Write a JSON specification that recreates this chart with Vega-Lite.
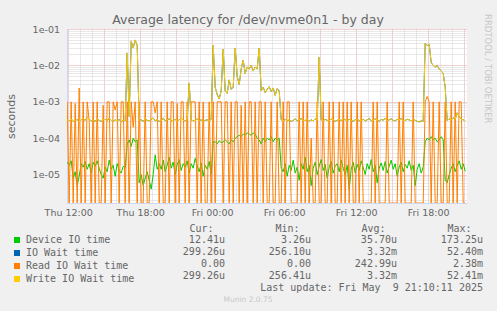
{
"$schema": "https://vega.github.io/schema/vega-lite/v6.json",
"background": "#f0f0f0",
"autosize": {"type": "none"},
"padding": {"left": 67, "top": 29, "right": 430, "bottom": 282},
"title": {"text": "RRDTOOL / TOBI OETIKER", "orient": "right", "anchor": "start", "frame": "bounds", "font": "DejaVu Sans", "fontSize": 8.5, "fontWeight": "normal", "color": "#c8c8c8", "offset": 0},
"bounds": "flush",
"spacing": 37,
"config": {"view": {"stroke": null}, "font": "DejaVu Sans"},
"vconcat": [
{
"width": 400, "height": 174,
"view": {"fill": "white", "stroke": null},
"title": {"text": "Average latency for /dev/nvme0n1 - by day", "anchor": "middle", "frame": "group", "dx": -19, "offset": -2.5, "font": "DejaVu Sans", "fontSize": 12.5, "fontWeight": "normal", "color": "#666"},
"data": {"values": [
{"t":"2025-05-08T11:55","d":2.2e-5,"w":3.2e-4,"r":1e-3},
{"t":"2025-05-08T12:05","d":1.8e-5,"w":3e-4,"r":0},
{"t":"2025-05-08T12:15","d":2.4e-5,"w":3.4e-4,"r":1e-3},
{"t":"2025-05-08T12:25","d":8e-6,"w":2.9e-4,"r":0},
{"t":"2025-05-08T12:35","d":1.2e-5,"w":3.1e-4,"r":9e-4},
{"t":"2025-05-08T12:45","d":5e-6,"w":3.3e-4,"r":0},
{"t":"2025-05-08T12:55","d":9e-6,"w":2.8e-4,"r":2.4e-3},
{"t":"2025-05-08T13:05","d":2e-5,"w":3.2e-4,"r":0},
{"t":"2025-05-08T13:15","d":1.6e-5,"w":3.5e-4,"r":1e-3},
{"t":"2025-05-08T13:25","d":2.3e-5,"w":3.1e-4,"r":0},
{"t":"2025-05-08T13:35","d":1.4e-5,"w":3.8e-4,"r":1e-3},
{"t":"2025-05-08T13:45","d":2e-5,"w":3.3e-4,"r":3e-4},
{"t":"2025-05-08T13:55","d":1.1e-5,"w":3e-4,"r":0},
{"t":"2025-05-08T14:05","d":2.2e-5,"w":3.2e-4,"r":1e-3},
{"t":"2025-05-08T14:15","d":1.7e-5,"w":2.9e-4,"r":0},
{"t":"2025-05-08T14:25","d":2.4e-5,"w":3.4e-4,"r":1e-3},
{"t":"2025-05-08T14:35","d":1.5e-5,"w":3.1e-4,"r":0},
{"t":"2025-05-08T14:45","d":1e-5,"w":2.9e-4,"r":0},
{"t":"2025-05-08T14:55","d":8e-6,"w":3.2e-4,"r":8e-4},
{"t":"2025-05-08T15:05","d":1.6e-5,"w":3.3e-4,"r":0},
{"t":"2025-05-08T15:15","d":1.2e-5,"w":3e-4,"r":1e-3},
{"t":"2025-05-08T15:25","d":2.5e-5,"w":3.6e-4,"r":1e-3},
{"t":"2025-05-08T15:35","d":1.4e-5,"w":3.1e-4,"r":0},
{"t":"2025-05-08T15:45","d":1.8e-5,"w":2.9e-4,"r":1e-3},
{"t":"2025-05-08T15:55","d":9e-6,"w":3.2e-4,"r":6e-4},
{"t":"2025-05-08T16:05","d":2e-5,"w":3e-4,"r":1e-3},
{"t":"2025-05-08T16:15","d":1.3e-5,"w":3.3e-4,"r":0},
{"t":"2025-05-08T16:25","d":1.1e-5,"w":2.8e-4,"r":1e-3},
{"t":"2025-05-08T16:35","d":1.7e-5,"w":3.1e-4,"r":1e-3},
{"t":"2025-05-08T16:45","d":1.5e-5,"w":3e-4,"r":0},
{"t":"2025-05-08T16:55","d":7e-5,"w":0.022,"r":1e-3},
{"t":"2025-05-08T17:05","d":9e-5,"w":4e-4,"r":0},
{"t":"2025-05-08T17:15","d":6e-5,"w":0.047,"r":1e-3},
{"t":"2025-05-08T17:25","d":1e-4,"w":0.03,"r":2e-4},
{"t":"2025-05-08T17:35","d":8e-5,"w":0.05,"r":1e-3},
{"t":"2025-05-08T17:45","d":9e-5,"w":0.035,"r":0},
{"t":"2025-05-08T17:55","d":6e-6,"w":3e-4,"r":1e-3},
{"t":"2025-05-08T18:05","d":1e-5,"w":3.2e-4,"r":0},
{"t":"2025-05-08T18:15","d":5e-6,"w":2.9e-4,"r":0},
{"t":"2025-05-08T18:25","d":8e-6,"w":3.4e-4,"r":1e-3},
{"t":"2025-05-08T18:35","d":1.2e-5,"w":3.1e-4,"r":0},
{"t":"2025-05-08T18:45","d":7e-6,"w":3e-4,"r":0},
{"t":"2025-05-08T18:55","d":4e-6,"w":3.3e-4,"r":1e-3},
{"t":"2025-05-08T19:05","d":1e-5,"w":3.6e-4,"r":1e-3},
{"t":"2025-05-08T19:15","d":3.5e-5,"w":3e-4,"r":5e-4},
{"t":"2025-05-08T19:25","d":1.4e-5,"w":3.2e-4,"r":1e-3},
{"t":"2025-05-08T19:35","d":2e-5,"w":2.9e-4,"r":0},
{"t":"2025-05-08T19:45","d":1.4e-5,"w":3.1e-4,"r":1e-3},
{"t":"2025-05-08T19:55","d":2.5e-5,"w":3.5e-4,"r":0},
{"t":"2025-05-08T20:05","d":1.2e-5,"w":3e-4,"r":0},
{"t":"2025-05-08T20:15","d":1.8e-5,"w":3.2e-4,"r":1e-3},
{"t":"2025-05-08T20:25","d":3e-5,"w":3.4e-4,"r":0},
{"t":"2025-05-08T20:35","d":1.5e-5,"w":3e-4,"r":1e-3},
{"t":"2025-05-08T20:45","d":2.2e-5,"w":3.1e-4,"r":1e-3},
{"t":"2025-05-08T20:55","d":1e-5,"w":3.3e-4,"r":0},
{"t":"2025-05-08T21:05","d":1.9e-5,"w":2.9e-4,"r":9e-4},
{"t":"2025-05-08T21:15","d":2.6e-5,"w":3.2e-4,"r":0},
{"t":"2025-05-08T21:25","d":1.3e-5,"w":3.6e-4,"r":1e-3},
{"t":"2025-05-08T21:35","d":2e-5,"w":3.1e-4,"r":1e-3},
{"t":"2025-05-08T21:45","d":1.6e-5,"w":3e-4,"r":0},
{"t":"2025-05-08T21:55","d":2.4e-5,"w":3.3e-4,"r":1e-3},
{"t":"2025-05-08T22:05","d":1.1e-5,"w":3.3e-3,"r":0},
{"t":"2025-05-08T22:15","d":2e-5,"w":3.2e-4,"r":1e-3},
{"t":"2025-05-08T22:25","d":1.5e-5,"w":3e-4,"r":1e-3},
{"t":"2025-05-08T22:35","d":2.8e-5,"w":3.1e-4,"r":1e-3},
{"t":"2025-05-08T22:45","d":1.7e-5,"w":3.4e-4,"r":0},
{"t":"2025-05-08T22:55","d":1.2e-5,"w":3e-4,"r":1e-3},
{"t":"2025-05-08T23:05","d":2.1e-5,"w":3.2e-4,"r":0},
{"t":"2025-05-08T23:15","d":9e-6,"w":2.9e-4,"r":1e-3},
{"t":"2025-05-08T23:25","d":1.8e-5,"w":3.1e-4,"r":0},
{"t":"2025-05-08T23:35","d":1.4e-5,"w":3.2e-4,"r":0},
{"t":"2025-05-08T23:45","d":2.3e-5,"w":3e-4,"r":1e-3},
{"t":"2025-05-08T23:55","d":1e-5,"w":3.3e-4,"r":0},
{"t":"2025-05-09T00:05","d":8e-5,"w":0.035,"r":1e-3},
{"t":"2025-05-09T00:15","d":8e-5,"w":2.5e-3,"r":0},
{"t":"2025-05-09T00:25","d":7e-5,"w":1.6e-3,"r":1e-3},
{"t":"2025-05-09T00:35","d":8.5e-5,"w":1.2e-3,"r":1e-3},
{"t":"2025-05-09T00:45","d":7.5e-5,"w":2e-3,"r":1e-3},
{"t":"2025-05-09T00:55","d":8e-5,"w":0.028,"r":0},
{"t":"2025-05-09T01:05","d":9e-5,"w":2e-3,"r":1e-3},
{"t":"2025-05-09T01:15","d":8e-5,"w":1.7e-3,"r":1e-3},
{"t":"2025-05-09T01:25","d":7e-5,"w":4e-3,"r":0},
{"t":"2025-05-09T01:35","d":9e-5,"w":2.2e-3,"r":1e-3},
{"t":"2025-05-09T01:45","d":8e-5,"w":2.5e-3,"r":0},
{"t":"2025-05-09T01:55","d":1e-4,"w":0.03,"r":1e-3},
{"t":"2025-05-09T02:05","d":1.1e-4,"w":5e-3,"r":1e-3},
{"t":"2025-05-09T02:15","d":1.2e-4,"w":3e-3,"r":0},
{"t":"2025-05-09T02:25","d":1.1e-4,"w":8e-3,"r":8e-4},
{"t":"2025-05-09T02:35","d":1.3e-4,"w":0.014,"r":0},
{"t":"2025-05-09T02:45","d":1.2e-4,"w":6e-3,"r":1e-3},
{"t":"2025-05-09T02:55","d":1.4e-4,"w":9e-3,"r":0},
{"t":"2025-05-09T03:05","d":1.3e-4,"w":8e-3,"r":1e-3},
{"t":"2025-05-09T03:15","d":1.2e-4,"w":0.01,"r":1e-3},
{"t":"2025-05-09T03:25","d":1.4e-4,"w":7e-3,"r":0},
{"t":"2025-05-09T03:35","d":1.3e-4,"w":9e-3,"r":1e-3},
{"t":"2025-05-09T03:45","d":1e-4,"w":8e-3,"r":0},
{"t":"2025-05-09T03:55","d":9e-5,"w":0.03,"r":1e-3},
{"t":"2025-05-09T04:05","d":7e-5,"w":2e-3,"r":1e-3},
{"t":"2025-05-09T04:15","d":1e-4,"w":2.5e-3,"r":0},
{"t":"2025-05-09T04:25","d":8e-5,"w":1.8e-3,"r":1e-3},
{"t":"2025-05-09T04:35","d":1e-4,"w":2.2e-3,"r":0},
{"t":"2025-05-09T04:45","d":9e-5,"w":2.6e-3,"r":0},
{"t":"2025-05-09T04:55","d":1.1e-4,"w":1.9e-3,"r":1e-3},
{"t":"2025-05-09T05:05","d":8e-5,"w":2.4e-3,"r":0},
{"t":"2025-05-09T05:15","d":1e-4,"w":1.5e-3,"r":0},
{"t":"2025-05-09T05:25","d":9e-5,"w":2.3e-3,"r":1e-3},
{"t":"2025-05-09T05:35","d":1e-4,"w":2e-3,"r":0},
{"t":"2025-05-09T05:45","d":1.5e-5,"w":3.2e-4,"r":0},
{"t":"2025-05-09T05:55","d":1.2e-5,"w":3e-4,"r":1e-3},
{"t":"2025-05-09T06:05","d":2e-5,"w":3.3e-4,"r":0},
{"t":"2025-05-09T06:15","d":9e-6,"w":3e-4,"r":1e-3},
{"t":"2025-05-09T06:25","d":1.8e-5,"w":3.2e-4,"r":1e-3},
{"t":"2025-05-09T06:35","d":1.3e-5,"w":2.9e-4,"r":0},
{"t":"2025-05-09T06:45","d":2.5e-5,"w":3.1e-4,"r":0},
{"t":"2025-05-09T06:55","d":1.1e-5,"w":3.4e-4,"r":0},
{"t":"2025-05-09T07:05","d":1.6e-5,"w":3e-4,"r":0},
{"t":"2025-05-09T07:15","d":7e-6,"w":3.2e-4,"r":1e-3},
{"t":"2025-05-09T07:25","d":2e-5,"w":3.5e-4,"r":0},
{"t":"2025-05-09T07:35","d":1.4e-5,"w":3e-4,"r":1e-3},
{"t":"2025-05-09T07:45","d":3e-5,"w":3.1e-4,"r":0},
{"t":"2025-05-09T07:55","d":1.2e-5,"w":3.3e-4,"r":1e-3},
{"t":"2025-05-09T08:05","d":1.8e-5,"w":2.9e-4,"r":0},
{"t":"2025-05-09T08:15","d":5e-6,"w":3.2e-4,"r":1e-4},
{"t":"2025-05-09T08:25","d":1.5e-5,"w":3e-4,"r":0},
{"t":"2025-05-09T08:35","d":2.2e-5,"w":3.4e-4,"r":0},
{"t":"2025-05-09T08:45","d":1e-5,"w":3.1e-4,"r":1e-3},
{"t":"2025-05-09T08:55","d":1.7e-5,"w":0.017,"r":0},
{"t":"2025-05-09T09:05","d":2.6e-5,"w":3.2e-4,"r":0},
{"t":"2025-05-09T09:15","d":1.3e-5,"w":3e-4,"r":1e-3},
{"t":"2025-05-09T09:25","d":1.9e-5,"w":3.3e-4,"r":0},
{"t":"2025-05-09T09:35","d":8e-6,"w":3.1e-4,"r":0},
{"t":"2025-05-09T09:45","d":1.6e-5,"w":3e-4,"r":1e-3},
{"t":"2025-05-09T09:55","d":2.3e-5,"w":3.4e-4,"r":0},
{"t":"2025-05-09T10:05","d":1.1e-5,"w":3.2e-4,"r":1e-3},
{"t":"2025-05-09T10:15","d":1.7e-5,"w":2.9e-4,"r":0},
{"t":"2025-05-09T10:25","d":2e-5,"w":3.1e-4,"r":0},
{"t":"2025-05-09T10:35","d":1.2e-5,"w":3.3e-4,"r":1e-3},
{"t":"2025-05-09T10:45","d":2.5e-5,"w":3e-4,"r":0},
{"t":"2025-05-09T10:55","d":1.5e-5,"w":3.5e-4,"r":1e-3},
{"t":"2025-05-09T11:05","d":1e-5,"w":3.2e-4,"r":0},
{"t":"2025-05-09T11:15","d":1.8e-5,"w":3e-4,"r":1e-3},
{"t":"2025-05-09T11:25","d":4e-6,"w":3.3e-4,"r":0},
{"t":"2025-05-09T11:35","d":1.4e-5,"w":3.1e-4,"r":1e-3},
{"t":"2025-05-09T11:45","d":2.2e-5,"w":2.9e-4,"r":0},
{"t":"2025-05-09T11:55","d":1.1e-5,"w":3.2e-4,"r":0},
{"t":"2025-05-09T12:05","d":1.9e-5,"w":3.4e-4,"r":1e-3},
{"t":"2025-05-09T12:15","d":1.3e-5,"w":3e-4,"r":0},
{"t":"2025-05-09T12:25","d":2.4e-5,"w":3.1e-4,"r":1e-3},
{"t":"2025-05-09T12:35","d":1.6e-5,"w":3.3e-4,"r":0},
{"t":"2025-05-09T12:45","d":1e-5,"w":3e-4,"r":0},
{"t":"2025-05-09T12:55","d":2e-5,"w":3.2e-4,"r":0},
{"t":"2025-05-09T13:05","d":1.4e-5,"w":3.5e-4,"r":0},
{"t":"2025-05-09T13:15","d":2.6e-5,"w":3e-4,"r":0},
{"t":"2025-05-09T13:25","d":1.2e-5,"w":3.1e-4,"r":1e-3},
{"t":"2025-05-09T13:35","d":1.8e-5,"w":3.4e-4,"r":0},
{"t":"2025-05-09T13:45","d":6e-6,"w":3.2e-4,"r":1e-3},
{"t":"2025-05-09T13:55","d":1.5e-5,"w":2.9e-4,"r":0},
{"t":"2025-05-09T14:05","d":2.1e-5,"w":3.3e-4,"r":0},
{"t":"2025-05-09T14:15","d":1.3e-5,"w":3.1e-4,"r":0},
{"t":"2025-05-09T14:25","d":2.3e-5,"w":3.6e-4,"r":0},
{"t":"2025-05-09T14:35","d":1.1e-5,"w":3e-4,"r":1e-3},
{"t":"2025-05-09T14:45","d":1.7e-5,"w":3.2e-4,"r":0},
{"t":"2025-05-09T14:55","d":2.5e-5,"w":3.4e-4,"r":0},
{"t":"2025-05-09T15:05","d":1.4e-5,"w":3.1e-4,"r":0},
{"t":"2025-05-09T15:15","d":2e-5,"w":3e-4,"r":0},
{"t":"2025-05-09T15:25","d":9e-6,"w":3.3e-4,"r":0},
{"t":"2025-05-09T15:35","d":1.6e-5,"w":3.2e-4,"r":1e-3},
{"t":"2025-05-09T15:45","d":2.2e-5,"w":3.5e-4,"r":0},
{"t":"2025-05-09T15:55","d":1.2e-5,"w":3e-4,"r":1e-3},
{"t":"2025-05-09T16:05","d":1.9e-5,"w":3.1e-4,"r":0},
{"t":"2025-05-09T16:15","d":1.5e-5,"w":3.3e-4,"r":0},
{"t":"2025-05-09T16:25","d":2.4e-5,"w":3.2e-4,"r":0},
{"t":"2025-05-09T16:35","d":1.3e-5,"w":3e-4,"r":0},
{"t":"2025-05-09T16:45","d":1.8e-5,"w":3.4e-4,"r":1e-3},
{"t":"2025-05-09T16:55","d":5e-6,"w":3.1e-4,"r":0},
{"t":"2025-05-09T17:05","d":1.4e-5,"w":2.9e-4,"r":0},
{"t":"2025-05-09T17:15","d":2e-5,"w":2.8e-4,"r":0},
{"t":"2025-05-09T17:25","d":1.1e-5,"w":3e-4,"r":0},
{"t":"2025-05-09T17:35","d":1.6e-5,"w":2.9e-4,"r":0},
{"t":"2025-05-09T17:45","d":8e-5,"w":0.04,"r":1e-3},
{"t":"2025-05-09T17:55","d":1e-4,"w":0.035,"r":1.4e-3},
{"t":"2025-05-09T18:05","d":9e-5,"w":0.038,"r":1e-3},
{"t":"2025-05-09T18:15","d":1.1e-4,"w":0.012,"r":0},
{"t":"2025-05-09T18:25","d":9e-5,"w":0.01,"r":1e-3},
{"t":"2025-05-09T18:35","d":1e-4,"w":0.009,"r":0},
{"t":"2025-05-09T18:45","d":8e-5,"w":0.01,"r":0},
{"t":"2025-05-09T18:55","d":9e-5,"w":0.008,"r":1e-3},
{"t":"2025-05-09T19:05","d":1.1e-4,"w":0.007,"r":0},
{"t":"2025-05-09T19:15","d":9e-5,"w":0.006,"r":0},
{"t":"2025-05-09T19:25","d":7e-6,"w":2.5e-3,"r":1e-3},
{"t":"2025-05-09T19:35","d":6e-6,"w":3e-4,"r":0},
{"t":"2025-05-09T19:45","d":1e-5,"w":3.4e-4,"r":0},
{"t":"2025-05-09T19:55","d":1.5e-5,"w":3.2e-4,"r":1e-3},
{"t":"2025-05-09T20:05","d":2e-5,"w":3.6e-4,"r":0},
{"t":"2025-05-09T20:15","d":1.2e-5,"w":3.3e-4,"r":1e-3},
{"t":"2025-05-09T20:25","d":1.8e-5,"w":5e-4,"r":0},
{"t":"2025-05-09T20:35","d":2.4e-5,"w":3.8e-4,"r":1e-3},
{"t":"2025-05-09T20:45","d":1.4e-5,"w":3.4e-4,"r":1e-3},
{"t":"2025-05-09T20:55","d":2e-5,"w":3.2e-4,"r":0},
{"t":"2025-05-09T21:05","d":1.24e-5,"w":3e-4,"r":0}
]},
"layer": [
{
"mark": {"type": "line", "strokeWidth": 1, "clip": true},
"encoding": {
"x": {"field": "t", "type": "temporal",
 "scale": {"domain": [{"year": 2025, "month": 5, "date": 8, "hours": 11, "minutes": 54}, {"year": 2025, "month": 5, "date": 9, "hours": 21, "minutes": 14}]},
 "axis": {"orient": "bottom", "values": [
  {"year":2025,"month":5,"date":8,"hours":13},{"year":2025,"month":5,"date":8,"hours":14},{"year":2025,"month":5,"date":8,"hours":16},{"year":2025,"month":5,"date":8,"hours":17},
  {"year":2025,"month":5,"date":8,"hours":19},{"year":2025,"month":5,"date":8,"hours":20},{"year":2025,"month":5,"date":8,"hours":22},{"year":2025,"month":5,"date":8,"hours":23},
  {"year":2025,"month":5,"date":9,"hours":1},{"year":2025,"month":5,"date":9,"hours":2},{"year":2025,"month":5,"date":9,"hours":4},{"year":2025,"month":5,"date":9,"hours":5},
  {"year":2025,"month":5,"date":9,"hours":7},{"year":2025,"month":5,"date":9,"hours":8},{"year":2025,"month":5,"date":9,"hours":10},{"year":2025,"month":5,"date":9,"hours":11},
  {"year":2025,"month":5,"date":9,"hours":13},{"year":2025,"month":5,"date":9,"hours":14},{"year":2025,"month":5,"date":9,"hours":16},{"year":2025,"month":5,"date":9,"hours":17},
  {"year":2025,"month":5,"date":9,"hours":19},{"year":2025,"month":5,"date":9,"hours":20}],
  "grid": true, "gridColor": "#d2d2d2", "gridDash": [1, 1], "labels": false, "ticks": false, "domain": false, "title": null}},
"y": {"field": "d", "type": "quantitative",
 "scale": {"type": "log", "domain": [1.66e-6, 0.1], "nice": false, "clamp": true},
 "axis": {"orient": "left", "values": [2e-6,3e-6,4e-6,5e-6,6e-6,7e-6,8e-6,9e-6,2e-5,3e-5,4e-5,5e-5,6e-5,7e-5,8e-5,9e-5,2e-4,3e-4,4e-4,5e-4,6e-4,7e-4,8e-4,9e-4,2e-3,3e-3,4e-3,5e-3,6e-3,7e-3,8e-3,9e-3,2e-2,3e-2,4e-2,5e-2,6e-2,7e-2,8e-2,9e-2], "grid": true, "gridColor": "#d2d2d2", "gridDash": [1, 1], "labels": false, "ticks": false, "domain": false, "title": null}},
"color": {"datum": "Device IO time", "type": "nominal",
 "scale": {"domain": ["Device IO time", "IO Wait time", "Read IO Wait time", "Write IO Wait time"], "range": ["#00cc00", "#0066b3", "#ff8000", "#ffcc00"]},
 "legend": {"orient": "none", "legendX": -55, "legendY": 206, "direction": "vertical", "title": null, "padding": 0, "symbolType": "square", "symbolSize": 9, "symbolStrokeWidth": 3, "labelFont": "DejaVu Sans Mono", "labelFontSize": 10, "labelColor": "#666", "labelOffset": 4, "rowPadding": -4}}
}
},
{
"mark": {"type": "line", "strokeWidth": 1, "clip": true},
"encoding": {
"x": {"field": "t", "type": "temporal",
 "axis": {"orient": "bottom", "values": [
  {"year":2025,"month":5,"date":8,"hours":12},{"year":2025,"month":5,"date":8,"hours":18},{"year":2025,"month":5,"date":9,"hours":0},
  {"year":2025,"month":5,"date":9,"hours":6},{"year":2025,"month":5,"date":9,"hours":12},{"year":2025,"month":5,"date":9,"hours":18}],
  "format": "%a %H:%M", "grid": true, "gridColor": "#e3a3a3", "gridDash": [1, 1], "labelOverlap": false, "labelFont": "DejaVu Sans", "labelFontSize": 9.5, "labelColor": "#666", "labelPadding": 4, "ticks": false, "domain": true, "domainColor": "#cfd6f8", "title": null}},
"y": {"field": "w", "type": "quantitative",
 "axis": {"orient": "left", "values": [1e-5, 1e-4, 1e-3, 1e-2, 1e-1], "grid": true, "gridColor": "#e3a3a3", "gridDash": [1, 1], "labelExpr": "datum.value > 0.05 ? '1e-01' : datum.value > 0.005 ? '1e-02' : datum.value > 0.0005 ? '1e-03' : datum.value > 0.00005 ? '1e-04' : '1e-05'", "labelFont": "DejaVu Sans", "labelFontSize": 9.5, "labelColor": "#666", "labelPadding": 7.5, "ticks": false, "domain": true, "domainColor": "#cfd6f8", "title": "seconds", "titleFont": "DejaVu Sans", "titleFontSize": 11, "titleFontWeight": "normal", "titleColor": "#666", "titlePadding": 16}},
"color": {"datum": "IO Wait time", "type": "nominal"}
}
},
{
"mark": {"type": "line", "strokeWidth": 1, "clip": true},
"encoding": {
"x": {"field": "t", "type": "temporal",
 "axis": {"orient": "bottom", "values": [
  {"year":2025,"month":5,"date":8,"hours":15},{"year":2025,"month":5,"date":8,"hours":21},{"year":2025,"month":5,"date":9,"hours":3},
  {"year":2025,"month":5,"date":9,"hours":9},{"year":2025,"month":5,"date":9,"hours":15},{"year":2025,"month":5,"date":9,"hours":21}],
  "grid": true, "gridColor": "#e3a3a3", "gridDash": [1, 1], "labels": false, "ticks": false, "domain": false, "title": null}},
"y": {"field": "r", "type": "quantitative", "axis": null},
"color": {"datum": "Read IO Wait time", "type": "nominal"}
}
},
{
"mark": {"type": "line", "strokeWidth": 1, "clip": true},
"encoding": {
"x": {"field": "t", "type": "temporal", "axis": null},
"y": {"field": "w", "type": "quantitative", "axis": null},
"color": {"datum": "Write IO Wait time", "type": "nominal"}
}
}
],
"resolve": {"axis": {"x": "independent", "y": "independent"}}
},
{
"width": 416, "height": 48,
"view": {"stroke": null},
"title": {"text": "Munin 2.0.75", "orient": "bottom", "anchor": "middle", "frame": "group", "dx": -27, "offset": 3, "font": "DejaVu Sans", "fontSize": 7.5, "fontWeight": "normal", "color": "#c8c8c8"},
"data": {"values": [
{"row": "Device IO time", "col": "Cur", "val": "12.41u"},
{"row": "Device IO time", "col": "Min", "val": "3.26u"},
{"row": "Device IO time", "col": "Avg", "val": "35.70u"},
{"row": "Device IO time", "col": "Max", "val": "173.25u"},
{"row": "IO Wait time", "col": "Cur", "val": "299.26u"},
{"row": "IO Wait time", "col": "Min", "val": "256.10u"},
{"row": "IO Wait time", "col": "Avg", "val": "3.32m"},
{"row": "IO Wait time", "col": "Max", "val": "52.40m"},
{"row": "Read IO Wait time", "col": "Cur", "val": "0.00"},
{"row": "Read IO Wait time", "col": "Min", "val": "0.00"},
{"row": "Read IO Wait time", "col": "Avg", "val": "242.99u"},
{"row": "Read IO Wait time", "col": "Max", "val": "2.38m"},
{"row": "Write IO Wait time", "col": "Cur", "val": "299.26u"},
{"row": "Write IO Wait time", "col": "Min", "val": "256.41u"},
{"row": "Write IO Wait time", "col": "Avg", "val": "3.32m"},
{"row": "Write IO Wait time", "col": "Max", "val": "52.41m"},
{"row": "Last update", "col": "Max", "val": "Last update: Fri May\u00a0 9 21:10:11 2025"}
]},
"mark": {"type": "text", "align": "right", "baseline": "middle", "font": "DejaVu Sans Mono", "fontSize": 10, "color": "#666"},
"encoding": {
"x": {"field": "col", "type": "nominal",
 "scale": {"type": "point", "domain": ["Cur", "Min", "Avg", "Max"], "padding": 0.9186, "align": 1},
 "axis": {"orient": "top", "labelExpr": "datum.label + ':'", "labelAngle": 0, "labelAlign": "right", "labelOffset": -12, "labelBaseline": "middle", "labelPadding": 12, "labelFont": "DejaVu Sans Mono", "labelFontSize": 10, "labelColor": "#666", "ticks": false, "tickSize": 0, "domain": false, "grid": false, "title": null}},
"y": {"field": "row", "type": "nominal",
 "scale": {"type": "point", "domain": ["Device IO time", "IO Wait time", "Read IO Wait time", "Write IO Wait time", "Last update"], "padding": 0},
 "axis": null},
"text": {"field": "val"}
}
}
]
}
